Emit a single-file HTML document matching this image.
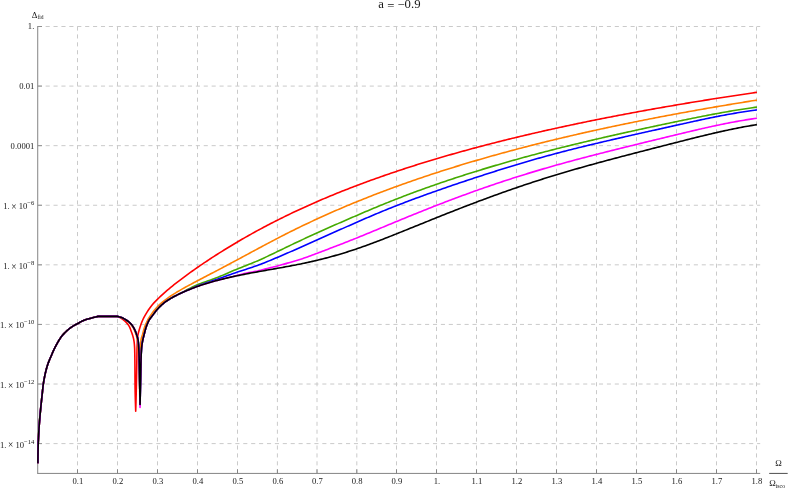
<!DOCTYPE html>
<html><head><meta charset="utf-8"><title>a = -0.9</title>
<style>html,body{margin:0;padding:0;background:#fff;width:788px;height:489px;overflow:hidden;font-family:"Liberation Serif",serif;}</style></head>
<body>
<svg width="788" height="489" viewBox="0 0 788 489" style="display:block;position:absolute;left:0;top:0;will-change:transform;opacity:0.999" font-family="'Liberation Serif', serif">
<rect width="788" height="489" fill="#fff"/>
<g stroke="#cacaca" stroke-width="1" stroke-dasharray="4.1 3.805" fill="none">
<line x1="77.50" y1="26.5" x2="77.50" y2="473.42"/>
<line x1="117.50" y1="26.5" x2="117.50" y2="473.42"/>
<line x1="157.50" y1="26.5" x2="157.50" y2="473.42"/>
<line x1="197.50" y1="26.5" x2="197.50" y2="473.42"/>
<line x1="237.50" y1="26.5" x2="237.50" y2="473.42"/>
<line x1="277.40" y1="26.5" x2="277.40" y2="473.42"/>
<line x1="317.00" y1="26.5" x2="317.00" y2="473.42"/>
<line x1="356.80" y1="26.5" x2="356.80" y2="473.42"/>
<line x1="396.50" y1="26.5" x2="396.50" y2="473.42"/>
<line x1="436.50" y1="26.5" x2="436.50" y2="473.42"/>
<line x1="476.50" y1="26.5" x2="476.50" y2="473.42"/>
<line x1="516.50" y1="26.5" x2="516.50" y2="473.42"/>
<line x1="556.50" y1="26.5" x2="556.50" y2="473.42"/>
<line x1="596.50" y1="26.5" x2="596.50" y2="473.42"/>
<line x1="636.50" y1="26.5" x2="636.50" y2="473.42"/>
<line x1="676.50" y1="26.5" x2="676.50" y2="473.42"/>
<line x1="716.50" y1="26.5" x2="716.50" y2="473.42"/>
<line x1="756.50" y1="26.5" x2="756.50" y2="473.42"/>
<line x1="37.72" y1="26.50" x2="760.2" y2="26.50"/>
<line x1="37.72" y1="86.09" x2="760.2" y2="86.09"/>
<line x1="37.72" y1="145.67" x2="760.2" y2="145.67"/>
<line x1="37.72" y1="205.26" x2="760.2" y2="205.26"/>
<line x1="37.72" y1="264.84" x2="760.2" y2="264.84"/>
<line x1="37.72" y1="324.43" x2="760.2" y2="324.43"/>
<line x1="37.72" y1="384.02" x2="760.2" y2="384.02"/>
<line x1="37.72" y1="443.60" x2="760.2" y2="443.60"/>
</g>
<g stroke="#848484" stroke-width="1" fill="none">
<line x1="37.72" y1="26.1" x2="37.72" y2="473.82"/>
<line x1="37.42" y1="473.42" x2="760.2" y2="473.42"/>
<line x1="77.50" y1="469.32" x2="77.50" y2="473.42"/>
<line x1="117.50" y1="469.32" x2="117.50" y2="473.42"/>
<line x1="157.50" y1="469.32" x2="157.50" y2="473.42"/>
<line x1="197.50" y1="469.32" x2="197.50" y2="473.42"/>
<line x1="237.50" y1="469.32" x2="237.50" y2="473.42"/>
<line x1="277.40" y1="469.32" x2="277.40" y2="473.42"/>
<line x1="317.00" y1="469.32" x2="317.00" y2="473.42"/>
<line x1="356.80" y1="469.32" x2="356.80" y2="473.42"/>
<line x1="396.50" y1="469.32" x2="396.50" y2="473.42"/>
<line x1="436.50" y1="469.32" x2="436.50" y2="473.42"/>
<line x1="476.50" y1="469.32" x2="476.50" y2="473.42"/>
<line x1="516.50" y1="469.32" x2="516.50" y2="473.42"/>
<line x1="556.50" y1="469.32" x2="556.50" y2="473.42"/>
<line x1="596.50" y1="469.32" x2="596.50" y2="473.42"/>
<line x1="636.50" y1="469.32" x2="636.50" y2="473.42"/>
<line x1="676.50" y1="469.32" x2="676.50" y2="473.42"/>
<line x1="716.50" y1="469.32" x2="716.50" y2="473.42"/>
<line x1="756.50" y1="469.32" x2="756.50" y2="473.42"/>
<line x1="37.72" y1="26.50" x2="42.02" y2="26.50" stroke="#909090"/>
<line x1="37.72" y1="86.09" x2="42.02" y2="86.09" stroke="#909090"/>
<line x1="37.72" y1="145.67" x2="42.02" y2="145.67" stroke="#909090"/>
<line x1="37.72" y1="205.26" x2="42.02" y2="205.26" stroke="#909090"/>
<line x1="37.72" y1="264.84" x2="42.02" y2="264.84" stroke="#909090"/>
<line x1="37.72" y1="324.43" x2="42.02" y2="324.43" stroke="#909090"/>
<line x1="37.72" y1="384.02" x2="42.02" y2="384.02" stroke="#909090"/>
<line x1="37.72" y1="443.60" x2="42.02" y2="443.60" stroke="#909090"/>
</g>
<g fill="none" stroke-width="1.6" stroke-linejoin="round" stroke-linecap="butt">
<path stroke="#ff0000" d="M37.90,463.20 L37.91,460.92 L37.93,458.65 L37.96,456.37 L37.99,454.10 L38.04,451.82 L38.09,449.55 L38.14,447.27 L38.20,445.00 L38.27,442.59 L38.37,440.17 L38.48,437.76 L38.60,435.35 L38.74,432.93 L38.89,430.52 L39.04,428.11 L39.20,425.70 L39.35,423.50 L39.52,421.30 L39.70,419.10 L39.89,416.90 L40.09,414.70 L40.29,412.50 L40.50,410.30 L40.71,408.11 L40.93,405.93 L41.16,403.74 L41.39,401.55 L41.63,399.37 L41.86,397.18 L42.10,395.00 L42.33,392.84 L42.55,390.67 L42.78,388.51 L43.02,386.35 L43.30,384.20 L43.62,382.07 L43.98,379.94 L44.37,377.81 L44.80,375.70 L45.24,373.64 L45.72,371.59 L46.24,369.54 L46.80,367.51 L47.40,365.50 L48.11,363.41 L48.90,361.34 L49.75,359.29 L50.63,357.24 L51.50,355.20 L52.31,353.29 L53.13,351.38 L54.00,349.50 L55.02,347.44 L56.09,345.41 L57.20,343.40 L58.16,341.71 L59.15,340.03 L60.19,338.38 L61.30,336.80 L62.47,335.32 L63.73,333.89 L65.04,332.52 L66.40,331.20 L68.03,329.75 L69.73,328.37 L71.50,327.10 L73.41,325.90 L75.40,324.78 L77.40,323.70 L79.22,322.68 L81.05,321.65 L82.90,320.70 L84.80,319.90 L86.80,319.27 L88.85,318.72 L90.90,318.20 L93.29,317.58 L95.69,316.98 L98.10,316.40 L117.50,316.40 L119.66,317.41 L121.70,318.60 L123.41,319.82 L125.00,321.20 L126.51,322.72 L127.93,324.36 L129.10,326.10 L129.85,327.66 L130.49,329.33 L131.10,331.00 L131.86,333.05 L132.59,335.11 L133.20,337.20 L133.59,338.84 L133.90,340.50 L134.19,342.49 L134.40,344.50 L134.53,346.33 L134.63,348.16 L134.70,350.00 L134.75,352.17 L134.79,354.33 L134.83,356.50 L134.85,358.67 L134.88,360.83 L134.90,363.00 L134.92,365.44 L134.94,367.89 L134.95,370.33 L134.97,372.78 L134.98,375.22 L134.99,377.67 L135.01,380.11 L135.03,382.56 L135.05,385.00 L135.08,387.39 L135.12,389.78 L135.16,392.17 L135.21,394.56 L135.27,396.96 L135.33,399.35 L135.39,401.74 L135.47,404.13 L135.54,406.52 L135.62,408.91 L135.70,411.30 L135.77,408.91 L135.85,406.52 L135.92,404.13 L135.98,401.74 L136.05,399.35 L136.11,396.96 L136.18,394.56 L136.24,392.17 L136.29,389.78 L136.35,387.39 L136.40,385.00 L136.45,382.56 L136.50,380.11 L136.55,377.67 L136.59,375.22 L136.64,372.78 L136.68,370.33 L136.72,367.89 L136.76,365.44 L136.80,363.00 L136.83,360.83 L136.86,358.67 L136.89,356.50 L136.92,354.33 L136.96,352.17 L137.00,350.00 L137.05,348.00 L137.12,346.00 L137.21,344.00 L137.30,342.00 L137.40,340.13 L137.53,338.26 L137.70,336.40 L138.00,334.59 L138.43,332.79 L138.90,331.00 L139.39,329.22 L139.92,327.45 L140.50,325.70 L141.17,323.78 L141.90,321.87 L142.70,320.00 L143.71,317.92 L144.81,315.88 L145.99,313.87 L147.20,311.90 L148.39,310.04 L149.63,308.21 L150.94,306.42 L152.30,304.70 L153.93,302.89 L155.65,301.15 L157.40,299.43 L159.05,297.79 L160.71,296.18 L162.40,294.59 L164.05,293.10 L165.72,291.62 L167.40,290.17 L169.05,288.77 L170.72,287.39 L172.40,286.02 L174.06,284.70 L175.72,283.38 L177.40,282.08 L179.06,280.81 L180.73,279.54 L182.40,278.29 L184.06,277.05 L185.73,275.82 L187.40,274.60 L189.06,273.40 L190.73,272.20 L192.40,271.01 L194.06,269.83 L195.73,268.66 L197.40,267.50 L199.06,266.35 L200.73,265.20 L202.40,264.07 L204.06,262.94 L205.73,261.82 L207.40,260.71 L209.06,259.61 L210.73,258.51 L212.40,257.42 L214.06,256.35 L215.73,255.27 L217.40,254.21 L219.06,253.15 L220.73,252.10 L222.40,251.06 L224.06,250.02 L225.73,249.00 L227.40,247.97 L229.06,246.96 L230.73,245.95 L232.40,244.95 L234.06,243.95 L235.73,242.96 L237.40,241.98 L239.06,241.00 L240.73,240.03 L242.40,239.06 L244.06,238.11 L245.73,237.15 L247.40,236.21 L249.06,235.27 L250.73,234.33 L252.40,233.40 L254.06,232.48 L255.73,231.57 L257.40,230.65 L259.06,229.75 L260.73,228.85 L262.40,227.96 L264.06,227.07 L265.73,226.19 L267.40,225.31 L269.06,224.45 L270.73,223.58 L272.40,222.72 L274.06,221.87 L275.73,221.02 L277.40,220.18 L279.06,219.34 L280.73,218.51 L282.40,217.69 L284.06,216.87 L285.73,216.05 L287.40,215.24 L289.06,214.44 L290.73,213.64 L292.40,212.84 L294.06,212.05 L295.73,211.27 L297.40,210.49 L299.06,209.71 L300.73,208.94 L302.40,208.17 L304.06,207.41 L305.73,206.66 L307.40,205.90 L309.06,205.16 L310.73,204.42 L312.40,203.68 L314.07,202.94 L315.73,202.21 L317.40,201.49 L319.07,200.77 L320.73,200.05 L322.40,199.34 L324.07,198.63 L325.73,197.93 L327.40,197.23 L329.07,196.53 L330.73,195.84 L332.40,195.15 L334.07,194.47 L335.73,193.79 L337.40,193.11 L339.07,192.44 L340.73,191.77 L342.40,191.11 L344.07,190.45 L345.73,189.79 L347.40,189.14 L349.07,188.49 L350.73,187.84 L352.40,187.20 L354.07,186.56 L355.73,185.92 L357.40,185.29 L359.07,184.66 L360.73,184.04 L362.40,183.42 L364.07,182.80 L365.73,182.18 L367.40,181.57 L369.07,180.96 L370.73,180.36 L372.40,179.75 L374.07,179.16 L375.73,178.56 L377.40,177.97 L379.07,177.38 L380.73,176.79 L382.40,176.21 L384.07,175.63 L385.73,175.05 L387.40,174.47 L389.07,173.90 L390.73,173.33 L392.40,172.77 L394.07,172.20 L395.73,171.64 L397.40,171.09 L399.07,170.53 L400.73,169.98 L402.40,169.43 L404.07,168.88 L405.73,168.34 L407.40,167.80 L409.07,167.26 L410.73,166.73 L412.40,166.19 L414.07,165.66 L415.73,165.13 L417.40,164.61 L419.07,164.09 L420.73,163.57 L422.40,163.05 L424.07,162.53 L425.73,162.02 L427.40,161.51 L429.07,161.00 L430.73,160.50 L432.40,159.99 L434.07,159.49 L435.73,159.00 L437.40,158.50 L439.07,158.01 L440.73,157.51 L442.40,157.03 L444.07,156.54 L445.73,156.05 L447.40,155.57 L449.07,155.09 L450.73,154.61 L452.40,154.14 L454.07,153.66 L455.73,153.19 L457.40,152.72 L459.07,152.26 L460.73,151.79 L462.40,151.33 L464.07,150.87 L465.73,150.41 L467.40,149.95 L469.07,149.50 L470.73,149.04 L472.40,148.59 L474.07,148.14 L475.73,147.70 L477.40,147.25 L479.07,146.81 L480.73,146.37 L482.40,145.93 L484.07,145.49 L485.73,145.05 L487.40,144.62 L489.07,144.19 L490.73,143.76 L492.40,143.33 L494.07,142.90 L495.73,142.48 L497.40,142.06 L499.07,141.64 L500.73,141.22 L502.40,140.80 L504.07,140.38 L505.73,139.97 L507.40,139.56 L509.07,139.15 L510.73,138.74 L512.40,138.33 L514.07,137.93 L515.73,137.52 L517.40,137.12 L519.07,136.72 L520.73,136.32 L522.40,135.92 L524.07,135.53 L525.73,135.13 L527.40,134.74 L529.07,134.35 L530.73,133.96 L532.40,133.57 L534.07,133.19 L535.73,132.80 L537.40,132.42 L539.07,132.04 L540.73,131.66 L542.40,131.28 L544.07,130.90 L545.73,130.53 L547.40,130.15 L549.07,129.78 L550.73,129.41 L552.40,129.04 L554.07,128.67 L555.73,128.30 L557.40,127.94 L559.07,127.57 L560.73,127.21 L562.40,126.85 L564.07,126.49 L565.73,126.13 L567.40,125.77 L569.07,125.41 L570.73,125.06 L572.40,124.71 L574.07,124.35 L575.73,124.00 L577.40,123.65 L579.07,123.31 L580.73,122.96 L582.40,122.61 L584.07,122.27 L585.73,121.93 L587.40,121.58 L589.07,121.24 L590.73,120.90 L592.40,120.57 L594.07,120.23 L595.73,119.89 L597.40,119.56 L599.07,119.23 L600.73,118.89 L602.40,118.56 L604.07,118.23 L605.73,117.91 L607.40,117.58 L609.07,117.25 L610.73,116.93 L612.40,116.60 L614.07,116.28 L615.73,115.96 L617.40,115.64 L619.07,115.32 L620.73,115.00 L622.40,114.69 L624.07,114.37 L625.73,114.05 L627.40,113.74 L629.07,113.43 L630.73,113.12 L632.40,112.81 L634.07,112.50 L635.73,112.19 L637.40,111.88 L639.07,111.58 L640.73,111.27 L642.40,110.97 L644.07,110.66 L645.73,110.36 L647.40,110.06 L649.07,109.76 L650.73,109.46 L652.40,109.16 L654.07,108.87 L655.73,108.57 L657.40,108.28 L659.07,107.98 L660.73,107.69 L662.40,107.40 L664.07,107.11 L665.73,106.82 L667.40,106.53 L669.07,106.24 L670.73,105.95 L672.40,105.67 L674.07,105.38 L675.73,105.10 L677.40,104.81 L679.07,104.53 L680.73,104.25 L682.40,103.97 L684.07,103.69 L685.73,103.41 L687.40,103.13 L689.07,102.85 L690.73,102.58 L692.40,102.30 L694.07,102.03 L695.73,101.76 L697.40,101.48 L699.07,101.21 L700.73,100.94 L702.40,100.67 L704.07,100.40 L705.73,100.13 L707.40,99.86 L709.07,99.60 L710.73,99.33 L712.40,99.07 L714.07,98.80 L715.73,98.54 L717.40,98.28 L719.07,98.02 L720.73,97.76 L722.40,97.50 L724.07,97.24 L725.73,96.98 L727.40,96.72 L729.07,96.46 L730.73,96.21 L732.40,95.95 L734.07,95.70 L735.73,95.44 L737.40,95.19 L739.07,94.94 L740.73,94.69 L742.40,94.44 L744.07,94.19 L745.73,93.94 L747.40,93.69 L749.07,93.44 L750.73,93.20 L752.40,92.95 L754.65,92.62 L756.90,92.29"/>
<path stroke="#ff8000" d="M37.90,463.20 L37.91,460.92 L37.93,458.65 L37.96,456.37 L37.99,454.10 L38.04,451.82 L38.09,449.55 L38.14,447.27 L38.20,445.00 L38.27,442.59 L38.37,440.17 L38.48,437.76 L38.60,435.35 L38.74,432.93 L38.89,430.52 L39.04,428.11 L39.20,425.70 L39.35,423.50 L39.52,421.30 L39.70,419.10 L39.89,416.90 L40.09,414.70 L40.29,412.50 L40.50,410.30 L40.71,408.11 L40.93,405.93 L41.16,403.74 L41.39,401.55 L41.63,399.37 L41.86,397.18 L42.10,395.00 L42.33,392.84 L42.55,390.67 L42.78,388.51 L43.02,386.35 L43.30,384.20 L43.62,382.07 L43.98,379.94 L44.37,377.81 L44.80,375.70 L45.24,373.64 L45.72,371.59 L46.24,369.54 L46.80,367.51 L47.40,365.50 L48.11,363.41 L48.90,361.34 L49.75,359.29 L50.63,357.24 L51.50,355.20 L52.31,353.29 L53.13,351.38 L54.00,349.50 L55.02,347.44 L56.09,345.41 L57.20,343.40 L58.16,341.71 L59.15,340.03 L60.19,338.38 L61.30,336.80 L62.47,335.32 L63.73,333.89 L65.04,332.52 L66.40,331.20 L68.03,329.75 L69.73,328.37 L71.50,327.10 L73.41,325.90 L75.40,324.78 L77.40,323.70 L79.22,322.68 L81.05,321.65 L82.90,320.70 L84.80,319.90 L86.80,319.27 L88.85,318.72 L90.90,318.20 L93.29,317.58 L95.69,316.98 L98.10,316.40 L117.50,316.40 L119.60,316.96 L121.60,317.70 L123.16,318.44 L124.66,319.33 L126.10,320.30 L127.77,321.54 L129.37,322.92 L130.80,324.40 L131.99,325.96 L133.07,327.65 L134.00,329.40 L134.87,331.38 L135.64,333.42 L136.30,335.50 L136.92,337.73 L137.40,340.00 L137.73,342.25 L138.00,344.52 L138.20,346.80 L138.36,349.00 L138.50,351.19 L138.62,353.39 L138.72,355.60 L138.82,357.80 L138.90,360.00 L138.97,362.22 L139.04,364.44 L139.10,366.66 L139.15,368.89 L139.20,371.11 L139.25,373.33 L139.30,375.56 L139.35,377.78 L139.40,380.00 L139.46,382.44 L139.52,384.89 L139.57,387.33 L139.63,389.78 L139.68,392.22 L139.74,394.67 L139.79,397.11 L139.85,399.56 L139.90,402.00 L139.94,399.56 L139.97,397.11 L140.01,394.67 L140.04,392.22 L140.08,389.78 L140.11,387.33 L140.14,384.89 L140.17,382.44 L140.20,380.00 L140.22,377.78 L140.25,375.56 L140.27,373.33 L140.29,371.11 L140.31,368.89 L140.33,366.67 L140.35,364.44 L140.37,362.22 L140.40,360.00 L140.43,357.60 L140.46,355.20 L140.50,352.80 L140.54,350.40 L140.60,348.00 L140.66,345.99 L140.74,343.98 L140.85,341.98 L141.00,340.00 L141.38,338.09 L141.99,336.19 L142.60,334.30 L143.12,332.26 L143.62,330.21 L144.20,328.20 L144.94,326.10 L145.78,324.03 L146.71,321.99 L147.70,320.00 L148.73,318.16 L149.86,316.37 L151.06,314.62 L152.30,312.90 L153.50,311.32 L154.75,309.76 L156.06,308.25 L157.40,306.79 L159.00,305.18 L160.68,303.64 L162.40,302.15 L164.03,300.82 L165.70,299.53 L167.40,298.28 L169.04,297.12 L170.71,295.99 L172.40,294.89 L174.05,293.84 L175.72,292.81 L177.40,291.80 L179.06,290.82 L180.73,289.86 L182.40,288.90 L184.06,287.97 L185.73,287.05 L187.40,286.14 L189.06,285.23 L190.73,284.34 L192.40,283.45 L194.06,282.56 L195.73,281.68 L197.40,280.80 L199.07,279.93 L200.73,279.05 L202.40,278.18 L204.07,277.31 L205.73,276.44 L207.40,275.57 L209.07,274.70 L210.73,273.83 L212.40,272.96 L214.07,272.09 L215.73,271.22 L217.40,270.34 L219.07,269.47 L220.73,268.59 L222.40,267.71 L224.07,266.83 L225.73,265.95 L227.40,265.07 L229.07,264.19 L230.73,263.30 L232.40,262.41 L234.07,261.53 L235.73,260.63 L237.40,259.74 L239.07,258.85 L240.73,257.95 L242.40,257.06 L244.07,256.16 L245.73,255.26 L247.40,254.36 L249.07,253.46 L250.73,252.56 L252.40,251.66 L254.07,250.77 L255.73,249.87 L257.40,248.97 L259.07,248.08 L260.73,247.18 L262.40,246.29 L264.07,245.40 L265.73,244.51 L267.40,243.62 L269.07,242.74 L270.73,241.86 L272.40,240.98 L274.07,240.11 L275.73,239.23 L277.40,238.37 L279.07,237.50 L280.73,236.64 L282.40,235.78 L284.06,234.93 L285.73,234.08 L287.40,233.24 L289.06,232.40 L290.73,231.57 L292.40,230.73 L294.06,229.91 L295.73,229.09 L297.40,228.27 L299.06,227.46 L300.73,226.65 L302.40,225.84 L304.07,225.04 L305.73,224.24 L307.40,223.45 L309.07,222.66 L310.73,221.88 L312.40,221.10 L314.07,220.32 L315.73,219.55 L317.40,218.78 L319.07,218.02 L320.73,217.26 L322.40,216.50 L324.07,215.75 L325.73,215.00 L327.40,214.26 L329.07,213.52 L330.73,212.78 L332.40,212.05 L334.07,211.32 L335.73,210.59 L337.40,209.87 L339.07,209.15 L340.73,208.44 L342.40,207.73 L344.07,207.02 L345.73,206.31 L347.40,205.61 L349.07,204.92 L350.73,204.22 L352.40,203.53 L354.07,202.85 L355.73,202.17 L357.40,201.49 L359.07,200.81 L360.73,200.14 L362.40,199.47 L364.07,198.80 L365.73,198.14 L367.40,197.48 L369.07,196.82 L370.73,196.17 L372.40,195.52 L374.07,194.87 L375.73,194.23 L377.40,193.59 L379.07,192.95 L380.73,192.31 L382.40,191.68 L384.07,191.05 L385.73,190.43 L387.40,189.81 L389.07,189.19 L390.73,188.57 L392.40,187.96 L394.07,187.35 L395.73,186.74 L397.40,186.13 L399.07,185.53 L400.73,184.93 L402.40,184.33 L404.07,183.74 L405.73,183.15 L407.40,182.56 L409.07,181.98 L410.73,181.39 L412.40,180.81 L414.07,180.24 L415.73,179.66 L417.40,179.09 L419.07,178.52 L420.73,177.95 L422.40,177.39 L424.07,176.83 L425.73,176.27 L427.40,175.71 L429.07,175.16 L430.73,174.61 L432.40,174.06 L434.07,173.51 L435.73,172.97 L437.40,172.43 L439.07,171.89 L440.73,171.35 L442.40,170.82 L444.07,170.29 L445.73,169.76 L447.40,169.23 L449.07,168.71 L450.73,168.18 L452.40,167.66 L454.07,167.15 L455.73,166.63 L457.40,166.12 L459.07,165.61 L460.73,165.10 L462.40,164.59 L464.07,164.09 L465.73,163.58 L467.40,163.08 L469.07,162.59 L470.73,162.09 L472.40,161.60 L474.07,161.11 L475.73,160.62 L477.40,160.13 L479.07,159.65 L480.73,159.16 L482.40,158.68 L484.07,158.20 L485.73,157.73 L487.40,157.25 L489.07,156.78 L490.73,156.31 L492.40,155.84 L494.07,155.37 L495.73,154.91 L497.40,154.44 L499.07,153.98 L500.73,153.52 L502.40,153.07 L504.07,152.61 L505.73,152.16 L507.40,151.71 L509.07,151.26 L510.73,150.81 L512.40,150.36 L514.07,149.92 L515.73,149.48 L517.40,149.04 L519.07,148.60 L520.73,148.16 L522.40,147.72 L524.07,147.29 L525.73,146.86 L527.40,146.43 L529.07,146.00 L530.73,145.57 L532.40,145.15 L534.07,144.73 L535.73,144.30 L537.40,143.88 L539.07,143.47 L540.73,143.05 L542.40,142.63 L544.07,142.22 L545.73,141.81 L547.40,141.40 L549.07,140.99 L550.73,140.58 L552.40,140.18 L554.07,139.77 L555.73,139.37 L557.40,138.97 L559.07,138.57 L560.73,138.18 L562.40,137.78 L564.07,137.38 L565.73,136.99 L567.40,136.60 L569.07,136.21 L570.73,135.82 L572.40,135.43 L574.07,135.05 L575.73,134.67 L577.40,134.28 L579.07,133.90 L580.73,133.52 L582.40,133.14 L584.07,132.77 L585.73,132.39 L587.40,132.02 L589.07,131.64 L590.73,131.27 L592.40,130.90 L594.07,130.53 L595.73,130.17 L597.40,129.80 L599.07,129.44 L600.73,129.07 L602.40,128.71 L604.07,128.35 L605.73,127.99 L607.40,127.63 L609.07,127.28 L610.73,126.92 L612.40,126.57 L614.07,126.22 L615.73,125.86 L617.40,125.51 L619.07,125.17 L620.73,124.82 L622.40,124.47 L624.07,124.13 L625.73,123.78 L627.40,123.44 L629.07,123.10 L630.73,122.76 L632.40,122.42 L634.07,122.08 L635.73,121.74 L637.40,121.41 L639.07,121.07 L640.73,120.74 L642.40,120.41 L644.07,120.08 L645.73,119.75 L647.40,119.42 L649.07,119.09 L650.73,118.77 L652.40,118.44 L654.07,118.12 L655.73,117.80 L657.40,117.47 L659.07,117.15 L660.73,116.83 L662.40,116.52 L664.07,116.20 L665.73,115.88 L667.40,115.57 L669.07,115.25 L670.73,114.94 L672.40,114.63 L674.07,114.32 L675.73,114.01 L677.40,113.70 L679.07,113.39 L680.73,113.08 L682.40,112.78 L684.07,112.47 L685.73,112.17 L687.40,111.87 L689.07,111.57 L690.73,111.27 L692.40,110.97 L694.07,110.67 L695.73,110.37 L697.40,110.07 L699.07,109.78 L700.73,109.48 L702.40,109.19 L704.07,108.90 L705.73,108.61 L707.40,108.32 L709.07,108.03 L710.73,107.74 L712.40,107.45 L714.07,107.16 L715.73,106.88 L717.40,106.59 L719.07,106.31 L720.73,106.02 L722.40,105.74 L724.07,105.46 L725.73,105.18 L727.40,104.90 L729.07,104.62 L730.73,104.34 L732.40,104.07 L734.07,103.79 L735.73,103.52 L737.40,103.24 L739.07,102.97 L740.73,102.70 L742.40,102.43 L744.07,102.15 L745.73,101.88 L747.40,101.62 L749.07,101.35 L750.73,101.08 L752.40,100.81 L754.65,100.46 L756.90,100.10"/>
<path stroke="#44aa00" d="M37.90,463.20 L37.91,460.92 L37.93,458.65 L37.96,456.37 L37.99,454.10 L38.04,451.82 L38.09,449.55 L38.14,447.27 L38.20,445.00 L38.27,442.59 L38.37,440.17 L38.48,437.76 L38.60,435.35 L38.74,432.93 L38.89,430.52 L39.04,428.11 L39.20,425.70 L39.35,423.50 L39.52,421.30 L39.70,419.10 L39.89,416.90 L40.09,414.70 L40.29,412.50 L40.50,410.30 L40.71,408.11 L40.93,405.93 L41.16,403.74 L41.39,401.55 L41.63,399.37 L41.86,397.18 L42.10,395.00 L42.33,392.84 L42.55,390.67 L42.78,388.51 L43.02,386.35 L43.30,384.20 L43.62,382.07 L43.98,379.94 L44.37,377.81 L44.80,375.70 L45.24,373.64 L45.72,371.59 L46.24,369.54 L46.80,367.51 L47.40,365.50 L48.11,363.41 L48.90,361.34 L49.75,359.29 L50.63,357.24 L51.50,355.20 L52.31,353.29 L53.13,351.38 L54.00,349.50 L55.02,347.44 L56.09,345.41 L57.20,343.40 L58.16,341.71 L59.15,340.03 L60.19,338.38 L61.30,336.80 L62.47,335.32 L63.73,333.89 L65.04,332.52 L66.40,331.20 L68.03,329.75 L69.73,328.37 L71.50,327.10 L73.41,325.90 L75.40,324.78 L77.40,323.70 L79.22,322.68 L81.05,321.65 L82.90,320.70 L84.80,319.90 L86.80,319.27 L88.85,318.72 L90.90,318.20 L93.29,317.58 L95.69,316.98 L98.10,316.40 L117.50,316.40 L119.59,316.92 L121.60,317.60 L123.19,318.28 L124.73,319.10 L126.20,320.00 L127.95,321.23 L129.61,322.60 L131.10,324.10 L132.33,325.62 L133.44,327.28 L134.40,329.00 L135.35,331.10 L136.17,333.29 L136.90,335.50 L137.59,337.73 L138.10,340.00 L138.36,342.25 L138.56,344.52 L138.70,346.80 L138.81,349.00 L138.91,351.20 L139.00,353.40 L139.07,355.60 L139.14,357.80 L139.20,360.00 L139.26,362.22 L139.31,364.44 L139.35,366.67 L139.40,368.89 L139.44,371.11 L139.48,373.33 L139.52,375.56 L139.56,377.78 L139.60,380.00 L139.65,382.44 L139.69,384.88 L139.74,387.32 L139.78,389.76 L139.83,392.20 L139.87,394.64 L139.92,397.08 L139.96,399.52 L140.01,401.96 L140.05,404.40 L140.11,401.96 L140.17,399.52 L140.22,397.08 L140.28,394.64 L140.33,392.20 L140.39,389.76 L140.44,387.32 L140.50,384.88 L140.55,382.44 L140.60,380.00 L140.64,377.78 L140.68,375.56 L140.72,373.33 L140.76,371.11 L140.80,368.89 L140.84,366.67 L140.89,364.44 L140.94,362.22 L141.00,360.00 L141.08,357.60 L141.17,355.19 L141.29,352.79 L141.43,350.39 L141.60,348.00 L141.81,345.99 L142.09,343.99 L142.43,341.99 L142.80,340.00 L143.22,338.09 L143.70,336.19 L144.20,334.30 L144.70,332.26 L145.22,330.21 L145.80,328.20 L146.51,326.09 L147.31,324.00 L148.20,321.95 L149.20,320.00 L150.14,318.56 L151.22,317.18 L152.30,315.80 L153.55,314.11 L154.79,312.42 L156.06,310.76 L157.40,309.17 L158.99,307.46 L160.66,305.82 L162.40,304.26 L164.01,302.95 L165.69,301.70 L167.40,300.51 L169.04,299.45 L170.71,298.44 L172.40,297.46 L174.05,296.57 L175.72,295.70 L177.40,294.84 L179.07,293.99 L180.74,293.14 L182.40,292.28 L184.07,291.38 L185.73,290.46 L187.40,289.56 L189.06,288.69 L190.72,287.84 L192.40,287.01 L194.05,286.23 L195.72,285.48 L197.40,284.76 L199.06,284.10 L200.73,283.47 L202.40,282.85 L204.06,282.26 L205.73,281.68 L207.40,281.10 L209.07,280.52 L210.74,279.94 L212.40,279.34 L214.07,278.72 L215.74,278.09 L217.40,277.45 L219.07,276.77 L220.74,276.08 L222.40,275.38 L224.07,274.66 L225.73,273.94 L227.40,273.22 L229.07,272.50 L230.73,271.78 L232.40,271.06 L234.06,270.36 L235.73,269.66 L237.40,268.97 L239.06,268.30 L240.73,267.64 L242.40,266.98 L244.07,266.32 L245.73,265.67 L247.40,265.01 L249.07,264.35 L250.74,263.68 L252.40,263.01 L254.07,262.32 L255.74,261.62 L257.40,260.91 L259.07,260.19 L260.74,259.44 L262.40,258.69 L264.07,257.93 L265.74,257.15 L267.40,256.37 L269.07,255.58 L270.74,254.79 L272.40,253.99 L274.07,253.19 L275.73,252.38 L277.40,251.58 L279.07,250.77 L280.73,249.96 L282.40,249.16 L284.07,248.35 L285.73,247.55 L287.40,246.74 L289.07,245.94 L290.73,245.14 L292.40,244.35 L294.07,243.55 L295.73,242.76 L297.40,241.98 L299.07,241.19 L300.73,240.41 L302.40,239.63 L304.07,238.86 L305.73,238.09 L307.40,237.32 L309.07,236.56 L310.73,235.79 L312.40,235.03 L314.07,234.27 L315.73,233.52 L317.40,232.77 L319.07,232.01 L320.73,231.27 L322.40,230.52 L324.07,229.77 L325.73,229.03 L327.40,228.29 L329.07,227.55 L330.73,226.81 L332.40,226.07 L334.07,225.34 L335.73,224.60 L337.40,223.87 L339.07,223.14 L340.73,222.41 L342.40,221.68 L344.07,220.96 L345.73,220.23 L347.40,219.50 L349.07,218.78 L350.73,218.06 L352.40,217.34 L354.07,216.62 L355.73,215.90 L357.40,215.18 L359.07,214.46 L360.73,213.74 L362.40,213.03 L364.07,212.31 L365.73,211.60 L367.40,210.89 L369.07,210.18 L370.73,209.48 L372.40,208.78 L374.07,208.08 L375.73,207.39 L377.40,206.69 L379.07,206.01 L380.73,205.32 L382.40,204.64 L384.07,203.96 L385.73,203.29 L387.40,202.62 L389.07,201.95 L390.73,201.29 L392.40,200.63 L394.07,199.97 L395.73,199.32 L397.40,198.67 L399.07,198.02 L400.73,197.38 L402.40,196.74 L404.07,196.10 L405.73,195.47 L407.40,194.84 L409.07,194.21 L410.73,193.59 L412.40,192.96 L414.07,192.35 L415.73,191.73 L417.40,191.12 L419.07,190.51 L420.73,189.90 L422.40,189.30 L424.07,188.70 L425.73,188.10 L427.40,187.51 L429.07,186.92 L430.73,186.33 L432.40,185.74 L434.07,185.16 L435.73,184.58 L437.40,184.00 L439.07,183.43 L440.73,182.86 L442.40,182.29 L444.07,181.72 L445.73,181.16 L447.40,180.59 L449.07,180.04 L450.73,179.48 L452.40,178.93 L454.07,178.38 L455.73,177.83 L457.40,177.28 L459.07,176.74 L460.73,176.20 L462.40,175.66 L464.07,175.12 L465.73,174.59 L467.40,174.06 L469.07,173.53 L470.73,173.01 L472.40,172.48 L474.07,171.96 L475.73,171.44 L477.40,170.93 L479.07,170.41 L480.73,169.90 L482.40,169.39 L484.07,168.88 L485.73,168.38 L487.40,167.87 L489.07,167.37 L490.73,166.88 L492.40,166.38 L494.07,165.89 L495.73,165.39 L497.40,164.90 L499.07,164.42 L500.73,163.93 L502.40,163.45 L504.07,162.97 L505.73,162.49 L507.40,162.01 L509.07,161.53 L510.73,161.06 L512.40,160.59 L514.07,160.12 L515.73,159.65 L517.40,159.19 L519.07,158.73 L520.73,158.27 L522.40,157.81 L524.07,157.35 L525.73,156.89 L527.40,156.44 L529.07,155.99 L530.73,155.54 L532.40,155.09 L534.07,154.65 L535.73,154.20 L537.40,153.76 L539.07,153.32 L540.73,152.88 L542.40,152.44 L544.07,152.01 L545.73,151.58 L547.40,151.15 L549.07,150.72 L550.73,150.29 L552.40,149.86 L554.07,149.44 L555.73,149.01 L557.40,148.59 L559.07,148.17 L560.73,147.76 L562.40,147.34 L564.07,146.93 L565.73,146.51 L567.40,146.10 L569.07,145.69 L570.73,145.28 L572.40,144.88 L574.07,144.47 L575.73,144.07 L577.40,143.67 L579.07,143.27 L580.73,142.87 L582.40,142.47 L584.07,142.07 L585.73,141.67 L587.40,141.28 L589.07,140.89 L590.73,140.50 L592.40,140.10 L594.07,139.72 L595.73,139.33 L597.40,138.94 L599.07,138.55 L600.73,138.17 L602.40,137.79 L604.07,137.40 L605.73,137.02 L607.40,136.64 L609.07,136.26 L610.73,135.88 L612.40,135.51 L614.07,135.13 L615.73,134.75 L617.40,134.38 L619.07,134.01 L620.73,133.63 L622.40,133.26 L624.07,132.89 L625.73,132.52 L627.40,132.15 L629.07,131.78 L630.73,131.42 L632.40,131.05 L634.07,130.68 L635.73,130.32 L637.40,129.96 L639.07,129.59 L640.73,129.23 L642.40,128.87 L644.07,128.51 L645.73,128.15 L647.40,127.79 L649.07,127.43 L650.73,127.07 L652.40,126.71 L654.07,126.36 L655.73,126.00 L657.40,125.64 L659.07,125.29 L660.73,124.94 L662.40,124.58 L664.07,124.23 L665.73,123.88 L667.40,123.53 L669.07,123.17 L670.73,122.82 L672.40,122.47 L674.07,122.12 L675.73,121.78 L677.40,121.43 L679.07,121.08 L680.73,120.73 L682.40,120.39 L684.07,120.04 L685.73,119.70 L687.40,119.35 L689.07,119.01 L690.73,118.67 L692.40,118.33 L694.07,118.00 L695.73,117.66 L697.40,117.32 L699.07,116.99 L700.73,116.66 L702.40,116.33 L704.07,116.01 L705.73,115.68 L707.40,115.36 L709.07,115.04 L710.73,114.72 L712.40,114.40 L714.07,114.09 L715.73,113.78 L717.40,113.47 L719.07,113.17 L720.73,112.87 L722.40,112.57 L724.07,112.27 L725.73,111.98 L727.40,111.68 L729.07,111.40 L730.73,111.11 L732.40,110.83 L734.07,110.55 L735.73,110.28 L737.40,110.01 L739.07,109.74 L740.73,109.48 L742.40,109.22 L744.07,108.96 L745.73,108.70 L747.40,108.45 L749.07,108.21 L750.73,107.97 L752.40,107.73 L754.65,107.41 L756.90,107.10"/>
<path stroke="#0000ff" d="M37.90,463.20 L37.91,460.92 L37.93,458.65 L37.96,456.37 L37.99,454.10 L38.04,451.82 L38.09,449.55 L38.14,447.27 L38.20,445.00 L38.27,442.59 L38.37,440.17 L38.48,437.76 L38.60,435.35 L38.74,432.93 L38.89,430.52 L39.04,428.11 L39.20,425.70 L39.35,423.50 L39.52,421.30 L39.70,419.10 L39.89,416.90 L40.09,414.70 L40.29,412.50 L40.50,410.30 L40.71,408.11 L40.93,405.93 L41.16,403.74 L41.39,401.55 L41.63,399.37 L41.86,397.18 L42.10,395.00 L42.33,392.84 L42.55,390.67 L42.78,388.51 L43.02,386.35 L43.30,384.20 L43.62,382.07 L43.98,379.94 L44.37,377.81 L44.80,375.70 L45.24,373.64 L45.72,371.59 L46.24,369.54 L46.80,367.51 L47.40,365.50 L48.11,363.41 L48.90,361.34 L49.75,359.29 L50.63,357.24 L51.50,355.20 L52.31,353.29 L53.13,351.38 L54.00,349.50 L55.02,347.44 L56.09,345.41 L57.20,343.40 L58.16,341.71 L59.15,340.03 L60.19,338.38 L61.30,336.80 L62.47,335.32 L63.73,333.89 L65.04,332.52 L66.40,331.20 L68.03,329.75 L69.73,328.37 L71.50,327.10 L73.41,325.90 L75.40,324.78 L77.40,323.70 L79.22,322.68 L81.05,321.65 L82.90,320.70 L84.80,319.90 L86.80,319.27 L88.85,318.72 L90.90,318.20 L93.29,317.58 L95.69,316.98 L98.10,316.40 L117.50,316.40 L119.59,316.92 L121.60,317.60 L123.19,318.28 L124.73,319.10 L126.20,320.00 L127.95,321.23 L129.61,322.60 L131.10,324.10 L132.33,325.62 L133.44,327.28 L134.40,329.00 L135.35,331.10 L136.17,333.29 L136.90,335.50 L137.59,337.73 L138.10,340.00 L138.36,342.25 L138.56,344.52 L138.70,346.80 L138.81,349.00 L138.91,351.20 L139.00,353.40 L139.07,355.60 L139.14,357.80 L139.20,360.00 L139.26,362.22 L139.31,364.44 L139.35,366.67 L139.40,368.89 L139.44,371.11 L139.48,373.33 L139.52,375.56 L139.56,377.78 L139.60,380.00 L139.65,382.44 L139.69,384.88 L139.74,387.32 L139.78,389.76 L139.83,392.20 L139.87,394.64 L139.92,397.08 L139.96,399.52 L140.01,401.96 L140.05,404.40 L140.11,401.96 L140.17,399.52 L140.22,397.08 L140.28,394.64 L140.33,392.20 L140.39,389.76 L140.44,387.32 L140.50,384.88 L140.55,382.44 L140.60,380.00 L140.64,377.78 L140.68,375.56 L140.72,373.33 L140.76,371.11 L140.80,368.89 L140.84,366.67 L140.89,364.44 L140.94,362.22 L141.00,360.00 L141.08,357.60 L141.17,355.19 L141.29,352.79 L141.43,350.39 L141.60,348.00 L141.81,345.99 L142.09,343.99 L142.43,341.99 L142.80,340.00 L143.22,338.09 L143.70,336.19 L144.20,334.30 L144.70,332.26 L145.22,330.21 L145.80,328.20 L146.51,326.09 L147.31,324.00 L148.20,321.95 L149.20,320.00 L150.14,318.56 L151.22,317.18 L152.30,315.80 L153.55,314.11 L154.79,312.42 L156.06,310.76 L157.40,309.17 L158.99,307.46 L160.66,305.82 L162.40,304.26 L164.01,302.95 L165.69,301.70 L167.40,300.51 L169.04,299.45 L170.71,298.44 L172.40,297.46 L174.05,296.56 L175.72,295.69 L177.40,294.84 L179.06,294.03 L180.72,293.25 L182.40,292.48 L184.06,291.75 L185.73,291.03 L187.40,290.32 L189.07,289.59 L190.73,288.87 L192.40,288.16 L194.06,287.46 L195.73,286.77 L197.40,286.10 L199.06,285.47 L200.73,284.86 L202.40,284.26 L204.06,283.68 L205.73,283.11 L207.40,282.55 L209.07,281.99 L210.73,281.43 L212.40,280.87 L214.07,280.31 L215.74,279.74 L217.40,279.16 L219.07,278.57 L220.73,277.98 L222.40,277.38 L224.07,276.78 L225.73,276.18 L227.40,275.58 L229.07,274.99 L230.73,274.40 L232.40,273.81 L234.06,273.24 L235.73,272.67 L237.40,272.11 L239.06,271.56 L240.73,271.02 L242.40,270.48 L244.07,269.94 L245.73,269.40 L247.40,268.86 L249.07,268.30 L250.74,267.75 L252.40,267.19 L254.07,266.61 L255.74,266.02 L257.40,265.42 L259.07,264.81 L260.74,264.18 L262.40,263.54 L264.07,262.89 L265.74,262.23 L267.40,261.56 L269.07,260.88 L270.74,260.20 L272.40,259.51 L274.07,258.81 L275.73,258.10 L277.40,257.40 L279.07,256.69 L280.73,255.97 L282.40,255.26 L284.07,254.54 L285.73,253.81 L287.40,253.09 L289.07,252.36 L290.73,251.63 L292.40,250.90 L294.07,250.16 L295.73,249.43 L297.40,248.69 L299.07,247.95 L300.73,247.21 L302.40,246.47 L304.07,245.73 L305.73,244.99 L307.40,244.24 L309.07,243.50 L310.73,242.75 L312.40,242.01 L314.07,241.26 L315.73,240.52 L317.40,239.77 L319.07,239.03 L320.73,238.28 L322.40,237.53 L324.07,236.79 L325.73,236.04 L327.40,235.30 L329.07,234.55 L330.73,233.81 L332.40,233.06 L334.07,232.32 L335.73,231.57 L337.40,230.83 L339.07,230.09 L340.73,229.35 L342.40,228.61 L344.07,227.87 L345.73,227.13 L347.40,226.39 L349.07,225.65 L350.73,224.92 L352.40,224.18 L354.07,223.45 L355.73,222.72 L357.40,221.98 L359.07,221.25 L360.73,220.52 L362.40,219.80 L364.07,219.07 L365.73,218.35 L367.40,217.63 L369.07,216.91 L370.73,216.20 L372.40,215.49 L374.07,214.78 L375.73,214.08 L377.40,213.38 L379.07,212.69 L380.73,212.00 L382.40,211.31 L384.07,210.63 L385.73,209.95 L387.40,209.28 L389.07,208.61 L390.73,207.94 L392.40,207.28 L394.07,206.62 L395.73,205.97 L397.40,205.32 L399.07,204.67 L400.73,204.03 L402.40,203.38 L404.07,202.75 L405.73,202.11 L407.40,201.48 L409.07,200.85 L410.73,200.22 L412.40,199.60 L414.07,198.98 L415.73,198.36 L417.40,197.74 L419.07,197.13 L420.73,196.52 L422.40,195.91 L424.07,195.31 L425.73,194.71 L427.40,194.11 L429.07,193.51 L430.73,192.91 L432.40,192.32 L434.07,191.73 L435.73,191.14 L437.40,190.55 L439.07,189.97 L440.73,189.39 L442.40,188.81 L444.07,188.23 L445.73,187.65 L447.40,187.08 L449.07,186.50 L450.73,185.93 L452.40,185.36 L454.07,184.79 L455.73,184.23 L457.40,183.66 L459.07,183.10 L460.73,182.54 L462.40,181.98 L464.07,181.43 L465.73,180.87 L467.40,180.31 L469.07,179.76 L470.73,179.21 L472.40,178.66 L474.07,178.11 L475.73,177.56 L477.40,177.02 L479.07,176.47 L480.73,175.93 L482.40,175.39 L484.07,174.85 L485.73,174.31 L487.40,173.77 L489.07,173.24 L490.73,172.71 L492.40,172.17 L494.07,171.64 L495.73,171.12 L497.40,170.59 L499.07,170.07 L500.73,169.54 L502.40,169.02 L504.07,168.50 L505.73,167.99 L507.40,167.47 L509.07,166.96 L510.73,166.45 L512.40,165.94 L514.07,165.44 L515.73,164.93 L517.40,164.43 L519.07,163.93 L520.73,163.44 L522.40,162.94 L524.07,162.45 L525.73,161.96 L527.40,161.47 L529.07,160.99 L530.73,160.51 L532.40,160.03 L534.07,159.55 L535.73,159.07 L537.40,158.60 L539.07,158.13 L540.73,157.66 L542.40,157.20 L544.07,156.73 L545.73,156.27 L547.40,155.82 L549.07,155.36 L550.73,154.91 L552.40,154.46 L554.07,154.01 L555.73,153.57 L557.40,153.13 L559.07,152.69 L560.73,152.25 L562.40,151.82 L564.07,151.38 L565.73,150.95 L567.40,150.53 L569.07,150.10 L570.73,149.68 L572.40,149.26 L574.07,148.84 L575.73,148.42 L577.40,148.01 L579.07,147.59 L580.73,147.18 L582.40,146.77 L584.07,146.37 L585.73,145.96 L587.40,145.55 L589.07,145.15 L590.73,144.75 L592.40,144.35 L594.07,143.95 L595.73,143.55 L597.40,143.16 L599.07,142.76 L600.73,142.37 L602.40,141.98 L604.07,141.59 L605.73,141.20 L607.40,140.81 L609.07,140.42 L610.73,140.03 L612.40,139.65 L614.07,139.26 L615.73,138.88 L617.40,138.50 L619.07,138.11 L620.73,137.73 L622.40,137.35 L624.07,136.97 L625.73,136.59 L627.40,136.21 L629.07,135.84 L630.73,135.46 L632.40,135.08 L634.07,134.71 L635.73,134.33 L637.40,133.95 L639.07,133.58 L640.73,133.21 L642.40,132.83 L644.07,132.46 L645.73,132.08 L647.40,131.71 L649.07,131.34 L650.73,130.97 L652.40,130.59 L654.07,130.22 L655.73,129.85 L657.40,129.48 L659.07,129.11 L660.73,128.74 L662.40,128.36 L664.07,127.99 L665.73,127.62 L667.40,127.25 L669.07,126.88 L670.73,126.51 L672.40,126.14 L674.07,125.77 L675.73,125.39 L677.40,125.02 L679.07,124.65 L680.73,124.28 L682.40,123.91 L684.07,123.54 L685.73,123.17 L687.40,122.80 L689.07,122.43 L690.73,122.07 L692.40,121.70 L694.07,121.34 L695.73,120.98 L697.40,120.62 L699.07,120.26 L700.73,119.90 L702.40,119.55 L704.07,119.19 L705.73,118.84 L707.40,118.50 L709.07,118.15 L710.73,117.81 L712.40,117.47 L714.07,117.14 L715.73,116.80 L717.40,116.47 L719.07,116.15 L720.73,115.82 L722.40,115.51 L724.07,115.19 L725.73,114.88 L727.40,114.57 L729.07,114.27 L730.73,113.97 L732.40,113.67 L734.07,113.38 L735.73,113.09 L737.40,112.81 L739.07,112.54 L740.73,112.26 L742.40,111.99 L744.07,111.73 L745.73,111.47 L747.40,111.22 L749.07,110.97 L750.73,110.73 L752.40,110.49 L754.65,110.18 L756.90,109.87"/>
<path stroke="#ff00ff" d="M37.90,463.20 L37.91,460.92 L37.93,458.65 L37.96,456.37 L37.99,454.10 L38.04,451.82 L38.09,449.55 L38.14,447.27 L38.20,445.00 L38.27,442.59 L38.37,440.17 L38.48,437.76 L38.60,435.35 L38.74,432.93 L38.89,430.52 L39.04,428.11 L39.20,425.70 L39.35,423.50 L39.52,421.30 L39.70,419.10 L39.89,416.90 L40.09,414.70 L40.29,412.50 L40.50,410.30 L40.71,408.11 L40.93,405.93 L41.16,403.74 L41.39,401.55 L41.63,399.37 L41.86,397.18 L42.10,395.00 L42.33,392.84 L42.55,390.67 L42.78,388.51 L43.02,386.35 L43.30,384.20 L43.62,382.07 L43.98,379.94 L44.37,377.81 L44.80,375.70 L45.24,373.64 L45.72,371.59 L46.24,369.54 L46.80,367.51 L47.40,365.50 L48.11,363.41 L48.90,361.34 L49.75,359.29 L50.63,357.24 L51.50,355.20 L52.31,353.29 L53.13,351.38 L54.00,349.50 L55.02,347.44 L56.09,345.41 L57.20,343.40 L58.16,341.71 L59.15,340.03 L60.19,338.38 L61.30,336.80 L62.47,335.32 L63.73,333.89 L65.04,332.52 L66.40,331.20 L68.03,329.75 L69.73,328.37 L71.50,327.10 L73.41,325.90 L75.40,324.78 L77.40,323.70 L79.22,322.68 L81.05,321.65 L82.90,320.70 L84.80,319.90 L86.80,319.27 L88.85,318.72 L90.90,318.20 L93.29,317.58 L95.69,316.98 L98.10,316.40 L117.50,316.40 L119.59,316.92 L121.60,317.60 L123.19,318.28 L124.73,319.10 L126.20,320.00 L127.95,321.23 L129.61,322.60 L131.10,324.10 L132.33,325.62 L133.44,327.28 L134.40,329.00 L135.35,331.10 L136.17,333.29 L136.90,335.50 L137.59,337.73 L138.10,340.00 L138.36,342.25 L138.56,344.52 L138.70,346.80 L138.81,349.00 L138.91,351.20 L139.00,353.40 L139.07,355.60 L139.14,357.80 L139.20,360.00 L139.26,362.22 L139.31,364.44 L139.36,366.67 L139.40,368.89 L139.44,371.11 L139.48,373.33 L139.52,375.56 L139.56,377.78 L139.60,380.00 L139.64,382.49 L139.69,384.98 L139.73,387.47 L139.78,389.96 L139.82,392.45 L139.86,394.95 L139.90,397.44 L139.94,399.93 L139.98,402.42 L140.01,404.91 L140.05,407.40 L140.10,404.91 L140.15,402.42 L140.20,399.93 L140.25,397.44 L140.30,394.95 L140.35,392.45 L140.40,389.96 L140.45,387.47 L140.50,384.98 L140.55,382.49 L140.60,380.00 L140.64,377.78 L140.68,375.56 L140.72,373.33 L140.76,371.11 L140.80,368.89 L140.84,366.66 L140.89,364.44 L140.94,362.22 L141.00,360.00 L141.08,357.60 L141.17,355.19 L141.29,352.79 L141.43,350.39 L141.60,348.00 L141.81,345.99 L142.09,343.99 L142.43,341.99 L142.80,340.00 L143.22,338.09 L143.70,336.19 L144.20,334.30 L144.70,332.26 L145.22,330.21 L145.80,328.20 L146.51,326.09 L147.31,324.00 L148.20,321.95 L149.20,320.00 L150.14,318.56 L151.22,317.18 L152.30,315.80 L153.55,314.11 L154.79,312.42 L156.06,310.76 L157.40,309.17 L158.99,307.46 L160.66,305.82 L162.40,304.26 L164.01,302.95 L165.69,301.70 L167.40,300.51 L169.04,299.45 L170.71,298.44 L172.40,297.46 L174.05,296.56 L175.72,295.69 L177.40,294.84 L179.06,294.03 L180.72,293.25 L182.40,292.48 L184.06,291.74 L185.73,291.02 L187.40,290.32 L189.06,289.64 L190.73,288.98 L192.40,288.33 L194.06,287.71 L195.73,287.10 L197.40,286.50 L199.06,285.92 L200.73,285.36 L202.40,284.81 L204.06,284.27 L205.73,283.74 L207.40,283.23 L209.06,282.73 L210.73,282.24 L212.40,281.76 L214.06,281.29 L215.73,280.84 L217.40,280.39 L219.06,279.95 L220.73,279.52 L222.40,279.10 L224.07,278.69 L225.73,278.29 L227.40,277.89 L229.07,277.49 L230.74,277.09 L232.40,276.67 L234.07,276.24 L235.73,275.80 L237.40,275.35 L239.07,274.90 L240.73,274.44 L242.40,274.00 L244.06,273.59 L245.73,273.20 L247.40,272.83 L249.06,272.52 L250.73,272.22 L252.40,271.92 L254.07,271.62 L255.74,271.31 L257.40,270.97 L259.07,270.58 L260.74,270.17 L262.40,269.74 L264.07,269.30 L265.73,268.86 L267.40,268.43 L269.07,268.03 L270.73,267.63 L272.40,267.23 L274.07,266.83 L275.74,266.42 L277.40,265.99 L279.07,265.54 L280.74,265.06 L282.40,264.59 L284.07,264.11 L285.73,263.62 L287.40,263.14 L289.07,262.68 L290.73,262.22 L292.40,261.75 L294.07,261.28 L295.74,260.80 L297.40,260.30 L299.07,259.77 L300.74,259.22 L302.40,258.67 L304.07,258.09 L305.74,257.50 L307.40,256.90 L309.07,256.29 L310.74,255.68 L312.40,255.06 L314.07,254.43 L315.73,253.80 L317.40,253.17 L319.07,252.54 L320.73,251.91 L322.40,251.28 L324.07,250.65 L325.73,250.02 L327.40,249.39 L329.07,248.76 L330.73,248.12 L332.40,247.49 L334.07,246.85 L335.73,246.21 L337.40,245.57 L339.07,244.93 L340.73,244.28 L342.40,243.64 L344.07,242.99 L345.73,242.34 L347.40,241.68 L349.07,241.02 L350.73,240.36 L352.40,239.70 L354.07,239.03 L355.73,238.37 L357.40,237.70 L359.07,237.02 L360.73,236.34 L362.40,235.66 L364.07,234.98 L365.73,234.30 L367.40,233.61 L369.07,232.92 L370.73,232.23 L372.40,231.54 L374.07,230.85 L375.73,230.16 L377.40,229.47 L379.07,228.77 L380.73,228.08 L382.40,227.38 L384.07,226.69 L385.73,226.00 L387.40,225.30 L389.07,224.61 L390.73,223.92 L392.40,223.22 L394.07,222.53 L395.73,221.84 L397.40,221.15 L399.07,220.46 L400.73,219.78 L402.40,219.09 L404.07,218.41 L405.73,217.72 L407.40,217.04 L409.07,216.36 L410.73,215.68 L412.40,215.00 L414.07,214.33 L415.73,213.65 L417.40,212.98 L419.07,212.31 L420.73,211.64 L422.40,210.97 L424.07,210.31 L425.73,209.65 L427.40,208.98 L429.07,208.33 L430.73,207.67 L432.40,207.01 L434.07,206.36 L435.73,205.71 L437.40,205.06 L439.07,204.41 L440.73,203.77 L442.40,203.13 L444.07,202.49 L445.73,201.85 L447.40,201.21 L449.07,200.58 L450.73,199.95 L452.40,199.32 L454.07,198.69 L455.73,198.07 L457.40,197.45 L459.07,196.83 L460.73,196.21 L462.40,195.60 L464.07,194.99 L465.73,194.38 L467.40,193.77 L469.07,193.17 L470.73,192.57 L472.40,191.97 L474.07,191.37 L475.73,190.78 L477.40,190.19 L479.07,189.60 L480.73,189.01 L482.40,188.43 L484.07,187.85 L485.73,187.27 L487.40,186.69 L489.07,186.12 L490.73,185.55 L492.40,184.98 L494.07,184.41 L495.73,183.85 L497.40,183.29 L499.07,182.73 L500.73,182.17 L502.40,181.62 L504.07,181.07 L505.73,180.52 L507.40,179.98 L509.07,179.44 L510.73,178.90 L512.40,178.36 L514.07,177.82 L515.73,177.29 L517.40,176.76 L519.07,176.23 L520.73,175.71 L522.40,175.19 L524.07,174.67 L525.73,174.15 L527.40,173.64 L529.07,173.13 L530.73,172.62 L532.40,172.11 L534.07,171.61 L535.73,171.11 L537.40,170.61 L539.07,170.11 L540.73,169.62 L542.40,169.13 L544.07,168.64 L545.73,168.16 L547.40,167.67 L549.07,167.19 L550.73,166.71 L552.40,166.24 L554.07,165.76 L555.73,165.29 L557.40,164.83 L559.07,164.36 L560.73,163.90 L562.40,163.44 L564.07,162.98 L565.73,162.52 L567.40,162.07 L569.07,161.61 L570.73,161.16 L572.40,160.72 L574.07,160.27 L575.73,159.82 L577.40,159.38 L579.07,158.94 L580.73,158.50 L582.40,158.06 L584.07,157.63 L585.73,157.19 L587.40,156.76 L589.07,156.32 L590.73,155.89 L592.40,155.46 L594.07,155.03 L595.73,154.61 L597.40,154.18 L599.07,153.75 L600.73,153.33 L602.40,152.91 L604.07,152.48 L605.73,152.06 L607.40,151.64 L609.07,151.22 L610.73,150.80 L612.40,150.38 L614.07,149.97 L615.73,149.55 L617.40,149.13 L619.07,148.72 L620.73,148.30 L622.40,147.89 L624.07,147.48 L625.73,147.06 L627.40,146.65 L629.07,146.24 L630.73,145.83 L632.40,145.42 L634.07,145.01 L635.73,144.60 L637.40,144.19 L639.07,143.78 L640.73,143.37 L642.40,142.97 L644.07,142.56 L645.73,142.15 L647.40,141.75 L649.07,141.34 L650.73,140.94 L652.40,140.53 L654.07,140.13 L655.73,139.72 L657.40,139.32 L659.07,138.91 L660.73,138.51 L662.40,138.11 L664.07,137.70 L665.73,137.30 L667.40,136.90 L669.07,136.49 L670.73,136.09 L672.40,135.69 L674.07,135.29 L675.73,134.89 L677.40,134.48 L679.07,134.08 L680.73,133.68 L682.40,133.28 L684.07,132.88 L685.73,132.48 L687.40,132.08 L689.07,131.69 L690.73,131.29 L692.40,130.90 L694.07,130.50 L695.73,130.11 L697.40,129.73 L699.07,129.34 L700.73,128.96 L702.40,128.57 L704.07,128.19 L705.73,127.82 L707.40,127.44 L709.07,127.07 L710.73,126.71 L712.40,126.34 L714.07,125.98 L715.73,125.62 L717.40,125.27 L719.07,124.92 L720.73,124.57 L722.40,124.23 L724.07,123.89 L725.73,123.56 L727.40,123.22 L729.07,122.90 L730.73,122.58 L732.40,122.26 L734.07,121.95 L735.73,121.64 L737.40,121.34 L739.07,121.04 L740.73,120.75 L742.40,120.46 L744.07,120.18 L745.73,119.90 L747.40,119.63 L749.07,119.36 L750.73,119.10 L752.40,118.84 L754.65,118.51 L756.90,118.18"/>
<path stroke="#000000" d="M37.90,463.20 L37.91,460.92 L37.93,458.65 L37.96,456.37 L37.99,454.10 L38.04,451.82 L38.09,449.55 L38.14,447.27 L38.20,445.00 L38.27,442.59 L38.37,440.17 L38.48,437.76 L38.60,435.35 L38.74,432.93 L38.89,430.52 L39.04,428.11 L39.20,425.70 L39.35,423.50 L39.52,421.30 L39.70,419.10 L39.89,416.90 L40.09,414.70 L40.29,412.50 L40.50,410.30 L40.71,408.11 L40.93,405.93 L41.16,403.74 L41.39,401.55 L41.63,399.37 L41.86,397.18 L42.10,395.00 L42.33,392.84 L42.55,390.67 L42.78,388.51 L43.02,386.35 L43.30,384.20 L43.62,382.07 L43.98,379.94 L44.37,377.81 L44.80,375.70 L45.24,373.64 L45.72,371.59 L46.24,369.54 L46.80,367.51 L47.40,365.50 L48.11,363.41 L48.90,361.34 L49.75,359.29 L50.63,357.24 L51.50,355.20 L52.31,353.29 L53.13,351.38 L54.00,349.50 L55.02,347.44 L56.09,345.41 L57.20,343.40 L58.16,341.71 L59.15,340.03 L60.19,338.38 L61.30,336.80 L62.47,335.32 L63.73,333.89 L65.04,332.52 L66.40,331.20 L68.03,329.75 L69.73,328.37 L71.50,327.10 L73.41,325.90 L75.40,324.78 L77.40,323.70 L79.22,322.68 L81.05,321.65 L82.90,320.70 L84.80,319.90 L86.80,319.27 L88.85,318.72 L90.90,318.20 L93.29,317.58 L95.69,316.98 L98.10,316.40 L117.50,316.40 L119.59,316.92 L121.60,317.60 L123.19,318.28 L124.73,319.10 L126.20,320.00 L127.95,321.23 L129.61,322.60 L131.10,324.10 L132.33,325.62 L133.44,327.28 L134.40,329.00 L135.35,331.10 L136.17,333.29 L136.90,335.50 L137.59,337.73 L138.10,340.00 L138.36,342.25 L138.56,344.52 L138.70,346.80 L138.81,349.00 L138.91,351.20 L139.00,353.40 L139.07,355.60 L139.14,357.80 L139.20,360.00 L139.26,362.22 L139.31,364.44 L139.35,366.67 L139.40,368.89 L139.44,371.11 L139.48,373.33 L139.52,375.56 L139.56,377.78 L139.60,380.00 L139.65,382.44 L139.69,384.88 L139.74,387.32 L139.78,389.76 L139.83,392.20 L139.87,394.64 L139.92,397.08 L139.96,399.52 L140.01,401.96 L140.05,404.40 L140.11,401.96 L140.17,399.52 L140.22,397.08 L140.28,394.64 L140.33,392.20 L140.39,389.76 L140.44,387.32 L140.50,384.88 L140.55,382.44 L140.60,380.00 L140.64,377.78 L140.68,375.56 L140.72,373.33 L140.76,371.11 L140.80,368.89 L140.84,366.67 L140.89,364.44 L140.94,362.22 L141.00,360.00 L141.08,357.60 L141.17,355.19 L141.29,352.79 L141.43,350.39 L141.60,348.00 L141.81,345.99 L142.09,343.99 L142.43,341.99 L142.80,340.00 L143.22,338.09 L143.70,336.19 L144.20,334.30 L144.70,332.26 L145.22,330.21 L145.80,328.20 L146.51,326.09 L147.31,324.00 L148.20,321.95 L149.20,320.00 L150.14,318.56 L151.22,317.18 L152.30,315.80 L153.55,314.11 L154.79,312.42 L156.06,310.76 L157.40,309.17 L158.99,307.46 L160.66,305.82 L162.40,304.26 L164.01,302.95 L165.69,301.70 L167.40,300.51 L169.04,299.45 L170.71,298.44 L172.40,297.46 L174.05,296.56 L175.72,295.69 L177.40,294.84 L179.06,294.03 L180.72,293.25 L182.40,292.48 L184.06,291.74 L185.73,291.02 L187.40,290.32 L189.06,289.64 L190.73,288.98 L192.40,288.33 L194.06,287.71 L195.73,287.10 L197.40,286.50 L199.06,285.92 L200.73,285.36 L202.40,284.81 L204.06,284.27 L205.73,283.74 L207.40,283.23 L209.06,282.73 L210.73,282.24 L212.40,281.76 L214.06,281.29 L215.73,280.84 L217.40,280.39 L219.06,279.95 L220.73,279.52 L222.40,279.10 L224.06,278.69 L225.73,278.29 L227.40,277.89 L229.06,277.51 L230.73,277.13 L232.40,276.76 L234.07,276.40 L235.73,276.04 L237.40,275.69 L239.07,275.35 L240.73,275.01 L242.40,274.68 L244.07,274.35 L245.73,274.03 L247.40,273.71 L249.07,273.39 L250.73,273.08 L252.40,272.78 L254.07,272.47 L255.73,272.17 L257.40,271.86 L259.07,271.56 L260.73,271.27 L262.40,270.97 L264.07,270.67 L265.73,270.38 L267.40,270.08 L269.07,269.79 L270.73,269.49 L272.40,269.20 L274.07,268.90 L275.73,268.61 L277.40,268.31 L279.07,268.01 L280.73,267.72 L282.40,267.42 L284.07,267.12 L285.73,266.81 L287.40,266.51 L289.07,266.20 L290.73,265.88 L292.40,265.57 L294.07,265.25 L295.73,264.92 L297.40,264.59 L299.07,264.26 L300.73,263.92 L302.40,263.58 L304.07,263.23 L305.73,262.87 L307.40,262.51 L309.07,262.14 L310.73,261.77 L312.40,261.39 L314.07,261.01 L315.73,260.61 L317.40,260.22 L319.07,259.81 L320.73,259.40 L322.40,258.98 L324.07,258.56 L325.74,258.13 L327.40,257.69 L329.07,257.24 L330.74,256.79 L332.40,256.33 L334.07,255.86 L335.74,255.39 L337.40,254.91 L339.07,254.42 L340.74,253.92 L342.40,253.42 L344.07,252.91 L345.74,252.39 L347.40,251.87 L349.07,251.34 L350.74,250.80 L352.40,250.25 L354.07,249.70 L355.74,249.14 L357.40,248.57 L359.07,248.00 L360.74,247.42 L362.40,246.83 L364.07,246.23 L365.74,245.63 L367.40,245.03 L369.07,244.42 L370.73,243.80 L372.40,243.18 L374.07,242.56 L375.73,241.93 L377.40,241.30 L379.07,240.66 L380.73,240.02 L382.40,239.38 L384.07,238.73 L385.73,238.08 L387.40,237.43 L389.07,236.77 L390.73,236.12 L392.40,235.46 L394.07,234.80 L395.73,234.13 L397.40,233.47 L399.07,232.80 L400.73,232.13 L402.40,231.47 L404.07,230.80 L405.73,230.12 L407.40,229.45 L409.07,228.78 L410.73,228.11 L412.40,227.43 L414.07,226.76 L415.73,226.09 L417.40,225.41 L419.07,224.74 L420.73,224.06 L422.40,223.39 L424.07,222.72 L425.73,222.04 L427.40,221.37 L429.07,220.70 L430.73,220.03 L432.40,219.36 L434.07,218.69 L435.73,218.02 L437.40,217.35 L439.07,216.68 L440.73,216.02 L442.40,215.35 L444.07,214.69 L445.73,214.02 L447.40,213.36 L449.07,212.70 L450.73,212.05 L452.40,211.39 L454.07,210.73 L455.73,210.08 L457.40,209.43 L459.07,208.78 L460.73,208.13 L462.40,207.48 L464.07,206.84 L465.73,206.20 L467.40,205.55 L469.07,204.92 L470.73,204.28 L472.40,203.64 L474.07,203.01 L475.73,202.38 L477.40,201.75 L479.07,201.12 L480.73,200.50 L482.40,199.88 L484.07,199.26 L485.73,198.64 L487.40,198.02 L489.07,197.41 L490.73,196.80 L492.40,196.19 L494.07,195.59 L495.73,194.98 L497.40,194.38 L499.07,193.78 L500.73,193.19 L502.40,192.59 L504.07,192.00 L505.73,191.41 L507.40,190.83 L509.07,190.25 L510.73,189.66 L512.40,189.09 L514.07,188.51 L515.73,187.94 L517.40,187.37 L519.07,186.80 L520.73,186.23 L522.40,185.67 L524.07,185.11 L525.73,184.55 L527.40,184.00 L529.07,183.45 L530.73,182.90 L532.40,182.35 L534.07,181.81 L535.73,181.27 L537.40,180.73 L539.07,180.19 L540.73,179.66 L542.40,179.13 L544.07,178.60 L545.73,178.08 L547.40,177.56 L549.07,177.04 L550.73,176.52 L552.40,176.01 L554.07,175.50 L555.73,174.99 L557.40,174.48 L559.07,173.98 L560.73,173.48 L562.40,172.99 L564.07,172.49 L565.73,172.00 L567.40,171.51 L569.07,171.02 L570.73,170.54 L572.40,170.05 L574.07,169.57 L575.73,169.09 L577.40,168.62 L579.07,168.14 L580.73,167.67 L582.40,167.20 L584.07,166.73 L585.73,166.26 L587.40,165.80 L589.07,165.34 L590.73,164.87 L592.40,164.41 L594.07,163.96 L595.73,163.50 L597.40,163.04 L599.07,162.59 L600.73,162.13 L602.40,161.68 L604.07,161.23 L605.73,160.78 L607.40,160.34 L609.07,159.89 L610.73,159.44 L612.40,159.00 L614.07,158.56 L615.73,158.11 L617.40,157.67 L619.07,157.23 L620.73,156.79 L622.40,156.35 L624.07,155.92 L625.73,155.48 L627.40,155.04 L629.07,154.61 L630.73,154.17 L632.40,153.74 L634.07,153.30 L635.73,152.87 L637.40,152.44 L639.07,152.01 L640.73,151.58 L642.40,151.15 L644.07,150.72 L645.73,150.29 L647.40,149.86 L649.07,149.43 L650.73,149.00 L652.40,148.57 L654.07,148.15 L655.73,147.72 L657.40,147.29 L659.07,146.86 L660.73,146.44 L662.40,146.01 L664.07,145.59 L665.73,145.16 L667.40,144.73 L669.07,144.31 L670.73,143.88 L672.40,143.46 L674.07,143.03 L675.73,142.61 L677.40,142.18 L679.07,141.76 L680.73,141.33 L682.40,140.91 L684.07,140.49 L685.73,140.06 L687.40,139.64 L689.07,139.22 L690.73,138.80 L692.40,138.38 L694.07,137.97 L695.73,137.55 L697.40,137.14 L699.07,136.73 L700.73,136.32 L702.40,135.91 L704.07,135.51 L705.73,135.11 L707.40,134.71 L709.07,134.31 L710.73,133.92 L712.40,133.53 L714.07,133.14 L715.73,132.76 L717.40,132.37 L719.07,132.00 L720.73,131.62 L722.40,131.25 L724.07,130.89 L725.73,130.53 L727.40,130.17 L729.07,129.81 L730.73,129.46 L732.40,129.12 L734.07,128.78 L735.73,128.44 L737.40,128.11 L739.07,127.78 L740.73,127.46 L742.40,127.14 L744.07,126.83 L745.73,126.52 L747.40,126.22 L749.07,125.92 L750.73,125.63 L752.40,125.34 L754.65,124.96 L756.90,124.60"/>
</g>
<g fill="#161616" font-size="8.9">
<text transform="translate(77.90 483.60) scale(0.97 1)" text-anchor="middle">0.1</text>
<text transform="translate(117.90 483.60) scale(0.97 1)" text-anchor="middle">0.2</text>
<text transform="translate(157.90 483.60) scale(0.97 1)" text-anchor="middle">0.3</text>
<text transform="translate(197.90 483.60) scale(0.97 1)" text-anchor="middle">0.4</text>
<text transform="translate(237.90 483.60) scale(0.97 1)" text-anchor="middle">0.5</text>
<text transform="translate(277.80 483.60) scale(0.97 1)" text-anchor="middle">0.6</text>
<text transform="translate(317.40 483.60) scale(0.97 1)" text-anchor="middle">0.7</text>
<text transform="translate(357.20 483.60) scale(0.97 1)" text-anchor="middle">0.8</text>
<text transform="translate(396.90 483.60) scale(0.97 1)" text-anchor="middle">0.9</text>
<text transform="translate(436.90 483.60) scale(0.97 1)" text-anchor="middle">1.</text>
<text transform="translate(476.90 483.60) scale(0.97 1)" text-anchor="middle">1.1</text>
<text transform="translate(516.90 483.60) scale(0.97 1)" text-anchor="middle">1.2</text>
<text transform="translate(556.90 483.60) scale(0.97 1)" text-anchor="middle">1.3</text>
<text transform="translate(596.90 483.60) scale(0.97 1)" text-anchor="middle">1.4</text>
<text transform="translate(636.90 483.60) scale(0.97 1)" text-anchor="middle">1.5</text>
<text transform="translate(676.90 483.60) scale(0.97 1)" text-anchor="middle">1.6</text>
<text transform="translate(716.90 483.60) scale(0.97 1)" text-anchor="middle">1.7</text>
<text transform="translate(756.90 483.60) scale(0.97 1)" text-anchor="middle">1.8</text>
<text transform="translate(34.30 29.40) scale(0.97 1)" text-anchor="end">1.</text>
<text transform="translate(34.30 88.99) scale(0.97 1)" text-anchor="end">0.01</text>
<text transform="translate(34.30 148.57) scale(0.97 1)" text-anchor="end">0.0001</text>
<text transform="translate(34.30 209.21) scale(0.97 1)" text-anchor="end">1.<tspan dx="1.6" font-size="9.7" dy="0.8">×</tspan><tspan dx="2.1" dy="-0.8">10</tspan><tspan font-size="6.8" dy="-4.0">−6</tspan></text>
<text transform="translate(34.30 268.79) scale(0.97 1)" text-anchor="end">1.<tspan dx="1.6" font-size="9.7" dy="0.8">×</tspan><tspan dx="2.1" dy="-0.8">10</tspan><tspan font-size="6.8" dy="-4.0">−8</tspan></text>
<text transform="translate(34.30 328.38) scale(0.97 1)" text-anchor="end">1.<tspan dx="1.6" font-size="9.7" dy="0.8">×</tspan><tspan dx="2.1" dy="-0.8">10</tspan><tspan font-size="6.8" dy="-4.0">−10</tspan></text>
<text transform="translate(34.30 387.97) scale(0.97 1)" text-anchor="end">1.<tspan dx="1.6" font-size="9.7" dy="0.8">×</tspan><tspan dx="2.1" dy="-0.8">10</tspan><tspan font-size="6.8" dy="-4.0">−12</tspan></text>
<text transform="translate(34.30 447.55) scale(0.97 1)" text-anchor="end">1.<tspan dx="1.6" font-size="9.7" dy="0.8">×</tspan><tspan dx="2.1" dy="-0.8">10</tspan><tspan font-size="6.8" dy="-4.0">−14</tspan></text>
<text transform="translate(399.40 8.00) scale(1 1)" text-anchor="middle" font-size="12.7">a <tspan dy="1.7">=</tspan> <tspan dy="-0.3">−</tspan><tspan dy="-1.4">0.9</tspan></text>
<text transform="translate(31.80 17.80) scale(1 1)" font-size="8.8">Δ<tspan font-size="5.5" dy="1.1">fid</tspan></text>
<text transform="translate(778.40 466.10) scale(1 1)" text-anchor="middle" font-size="8.8">Ω</text>
<text transform="translate(769.20 486.00) scale(1 1)" font-size="8.8">Ω<tspan font-size="5.8" dy="1.6">isco</tspan></text>
</g>
<line x1="769.2" y1="473.42" x2="787.7" y2="473.42" stroke="#222" stroke-width="0.8"/>
</svg>
</body></html>
